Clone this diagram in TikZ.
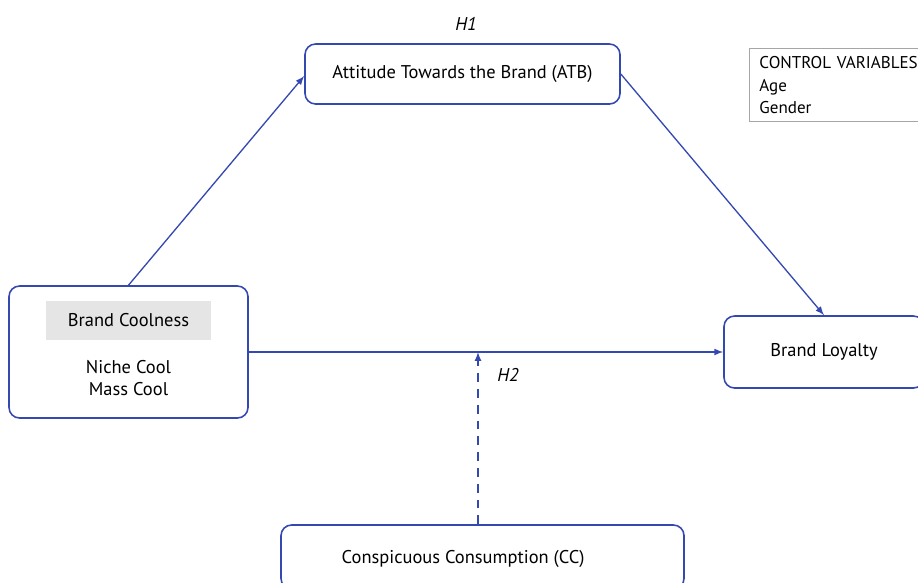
\documentclass[tikz,border=0pt]{standalone}
\usepackage{fontspec}
\setmainfont{PT Sans}
\usetikzlibrary{calc}
\definecolor{lineblue}{RGB}{52,72,178}
\definecolor{boxgray}{RGB}{229,229,229}
\tikzset{
  var/.style={draw=lineblue, line width=0.9pt, rounded corners=6pt, fill=white, align=center, inner sep=0pt},
  link/.style={draw=lineblue, line width=0.75pt, ->, >=latex},
  hyp/.style={font=\itshape\fontsize{10.5}{12}\selectfont}
}
\begin{document}
\begin{tikzpicture}[x=0.02cm, y=-0.02cm, font=\fontsize{10.5}{12.3}\selectfont]
\useasboundingbox (0,0) rectangle (918,582);
\clip (0,0) rectangle (918,582);

\node[var, minimum width=315*0.02cm, minimum height=60*0.02cm] (ATB) at (462.5,74) {Attitude Towards the Brand (ATB)};
\node[hyp] (H1) at (466,24) {H1};
\node[var, minimum width=239*0.02cm, minimum height=132*0.02cm] (BC) at (128.5,352) {};
\node[fill=boxgray, minimum width=165*0.02cm, minimum height=39*0.02cm] (BCtitle) at (128.5,320.5) {Brand Coolness};
\node[align=center] (BCdims) at (128.5,378) {Niche Cool\\Mass Cool};
\node[var, minimum width=200*0.02cm, minimum height=72*0.02cm] (BL) at (824,352) {Brand Loyalty};
\node[var, minimum width=403*0.02cm, minimum height=64*0.02cm, text depth=0pt] (CC) at (482.5,557) {\hspace*{-22pt}Conspicuous Consumption (CC)};
\node[draw=black!35, line width=0.5pt, anchor=north west, align=left, text width=180*0.02cm, inner xsep=10*0.02cm, inner ysep=4.5pt, font=\fontsize{9.7}{12.9}\selectfont] (ctrl) at (749,48) {CONTROL VARIABLES\\Age\\Gender};
\node[hyp] (H2) at (508,375) {H2};

\coordinate (m) at (478,352);
\draw[link] (BC.north) -- (ATB.west |- 0,76);
\draw[link] (ATB.east) -- (BL.north);
\draw[link] (BC.east) -- (BL.west);
\draw[link, dashed, dash pattern=on 5pt off 4pt] (CC.north -| m) -- (m);

\end{tikzpicture}
\end{document}
